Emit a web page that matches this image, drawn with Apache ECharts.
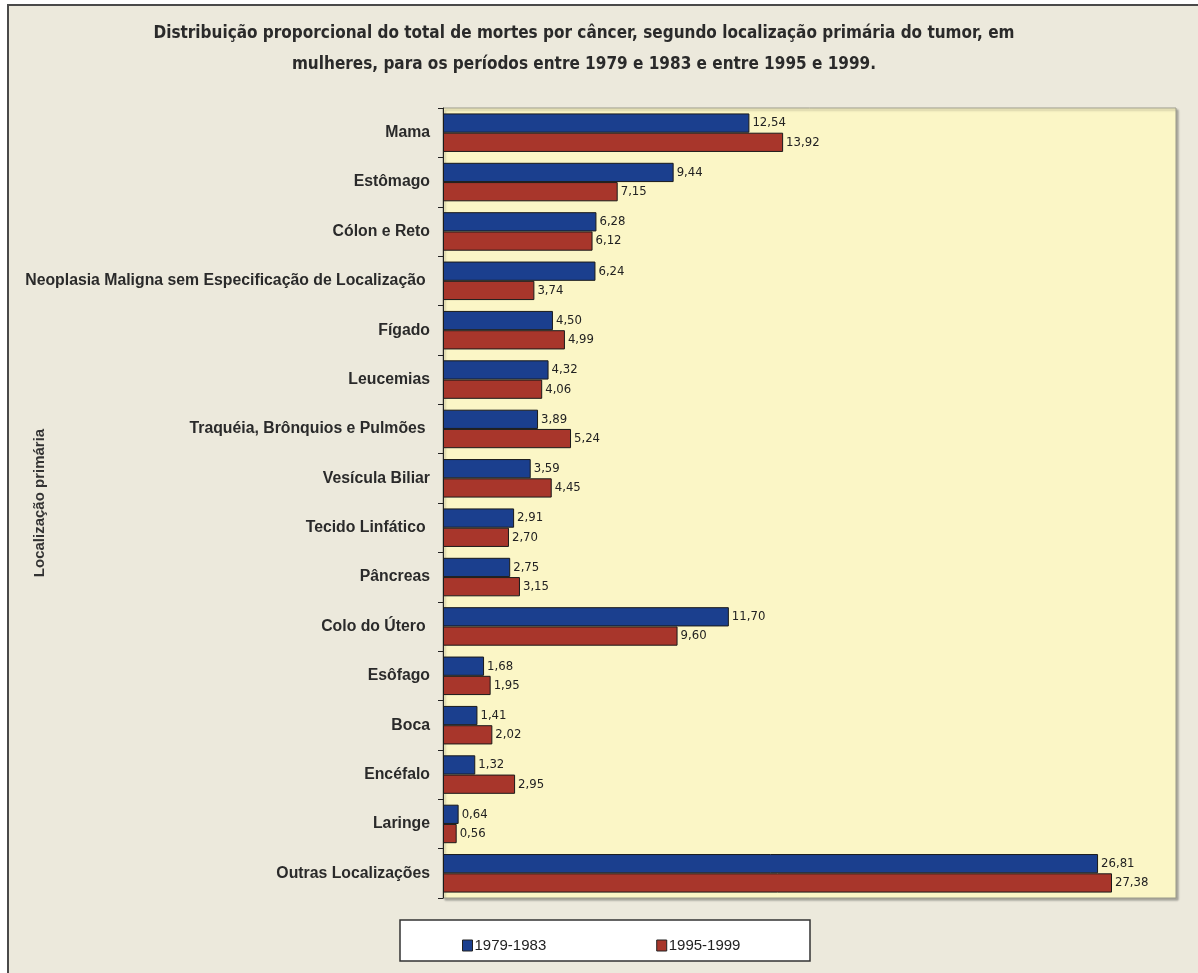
<!DOCTYPE html>
<html>
<head>
<meta charset="utf-8">
<script src="https://cdn.jsdelivr.net/npm/echarts@6/dist/echarts.min.js"></script>
<style>
  html, body { margin: 0; padding: 0; background: #ffffff; }
  #chart { width: 1198px; height: 973px; }
</style>
</head>
<body>
<div id="chart"></div>
<script>
// Localização primária do tumor (trailing spaces kept as in the source table)
const categories = [
  'Mama',
  'Estômago',
  'Cólon e Reto',
  'Neoplasia Maligna sem Especificação de Localização ',
  'Fígado',
  'Leucemias',
  'Traquéia, Brônquios e Pulmões ',
  'Vesícula Biliar',
  'Tecido Linfático ',
  'Pâncreas',
  'Colo do Útero ',
  'Esôfago',
  'Boca',
  'Encéfalo',
  'Laringe',
  'Outras Localizações'
];

// Percentual do total de mortes por câncer em mulheres
const period1979 = [12.54, 9.44, 6.28, 6.24, 4.50, 4.32, 3.89, 3.59, 2.91, 2.75, 11.70, 1.68, 1.41, 1.32, 0.64, 26.81];
const period1995 = [13.92, 7.15, 6.12, 3.74, 4.99, 4.06, 5.24, 4.45, 2.70, 3.15, 9.60, 1.95, 2.02, 2.95, 0.56, 27.38];

const seriesNames = ['1979-1983', '1995-1999'];
const axisTitle = 'Localização primária';

const NARROW = '"DejaVu Sans Condensed", "Liberation Sans", sans-serif';

const chart = echarts.init(document.getElementById('chart'), null, { renderer: 'canvas' });

const valueLabel = {
  show: true,
  position: 'right',
  distance: 3,
  fontFamily: NARROW,
  fontSize: 13,
  color: '#222',
  formatter: p => p.value.toFixed(2).replace('.', ',')
};

chart.setOption({
  animation: false,
  graphic: [
    {
      type: 'rect',
      z: -10,
      shape: { x: 8, y: 5, width: 1300, height: 1100 },
      style: { fill: '#ECE9DC', stroke: '#4a4a4a', lineWidth: 2 }
    },
    {
      type: 'rect',
      z: 5,
      shape: { x: 400, y: 920, width: 410, height: 41 },
      style: { fill: '#ffffff', stroke: '#333333', lineWidth: 1.5 }
    },
    {
      // rotated title of the category axis
      type: 'text',
      x: 40,
      y: 503,
      rotation: Math.PI / 2,
      z: 5,
      style: {
        text: axisTitle,
        fontFamily: 'Liberation Sans',
        fontSize: 15,
        fontWeight: 'bold',
        fill: '#333',
        align: 'center',
        verticalAlign: 'middle'
      }
    }
  ],
  title: {
    text: 'Distribuição proporcional do total de mortes por câncer, segundo localização primária do tumor, em\nmulheres, para os períodos entre 1979 e 1983 e entre 1995 e 1999.',
    left: 579,
    top: 13,
    textAlign: 'center',
    textStyle: {
      fontFamily: NARROW,
      fontSize: 17,
      fontWeight: 'bold',
      color: '#2a2a2a',
      lineHeight: 31,
      align: 'center'
    }
  },
  legend: {
    data: seriesNames,
    left: 457,
    top: 933,
    z: 10,
    icon: 'rect',
    itemWidth: 10,
    itemHeight: 11,
    itemGap: 110,
    itemStyle: { borderColor: '#222', borderWidth: 1 },
    textStyle: { fontFamily: 'Liberation Sans', fontSize: 15, color: '#222', padding: [0, 0, 0, -3] }
  },
  grid: {
    left: 443,
    top: 108,
    right: 22,
    bottom: 75,
    containLabel: false,
    outerBoundsMode: 'none',
    show: true,
    backgroundColor: '#FBF6C6',
    borderColor: '#9a9a8a',
    borderWidth: 1,
    shadowColor: 'rgba(0,0,0,0.28)',
    shadowBlur: 2,
    shadowOffsetX: 2,
    shadowOffsetY: 2
  },
  xAxis: {
    type: 'value',
    min: 0,
    max: 30,
    show: false,
    splitLine: { show: false }
  },
  yAxis: {
    type: 'category',
    data: categories,
    inverse: true,
    axisLine: { show: true, lineStyle: { color: '#222', width: 1 } },
    axisTick: { show: true, length: 5, lineStyle: { color: '#222' } },
    axisLabel: {
      margin: 13,
      fontFamily: 'Liberation Sans',
      fontSize: 15.8,
      fontWeight: 'bold',
      color: '#2a2a2a'
    }
  },
  series: [
    {
      name: seriesNames[0],
      type: 'bar',
      data: period1979,
      barGap: '0%',
      barCategoryGap: '22%',
      itemStyle: { color: '#1B3F8E', borderColor: '#1a1a1a', borderWidth: 1 },
      label: valueLabel
    },
    {
      name: seriesNames[1],
      type: 'bar',
      data: period1995,
      barGap: '0%',
      barCategoryGap: '22%',
      itemStyle: { color: '#A8362B', borderColor: '#1a1a1a', borderWidth: 1 },
      label: valueLabel
    }
  ]
});
</script>
</body>
</html>
